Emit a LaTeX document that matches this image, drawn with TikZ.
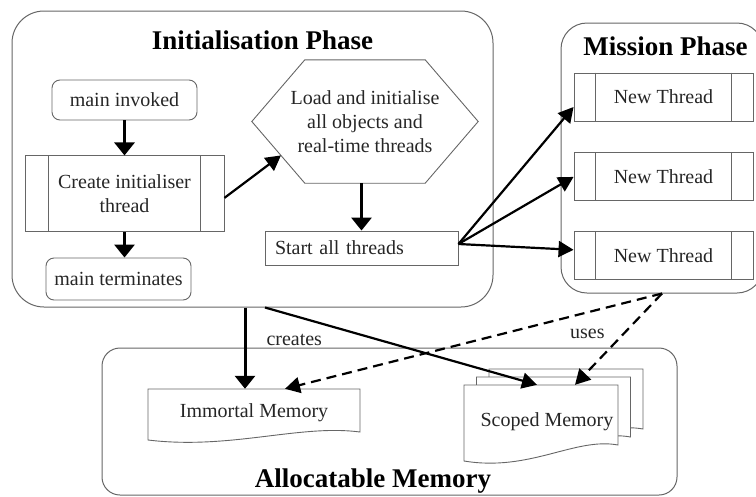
\documentclass[tikz,border=0pt]{standalone}
\usepackage{fontspec}
\setmainfont{Liberation Serif}
\usepackage{tikz}
\usetikzlibrary{arrows.meta,positioning,calc}

\begin{document}
\begin{tikzpicture}[x=1pt, y=-1pt,
  phase/.style={draw=black!60, line width=1pt},
  phasetitle/.style={font=\fontsize{27}{32}\selectfont\bfseries, anchor=base},
  txt/.style={font=\fontsize{20}{24}\selectfont, text=black!85, align=center,
    inner sep=2pt},
  outline/.style={draw=black!60, line width=0.9pt},
  stepbox/.style={txt, outline, rounded corners=8pt, minimum width=145pt},
  threadbox/.style={txt, outline},
  newthread/.style={threadbox, minimum width=179pt, minimum height=48pt},
  docshape/.style={outline, fill=white},
  flow/.style={-{Triangle[length=13pt,width=20pt]}, line width=3pt},
  spawn/.style={-{Triangle[length=15pt,width=16pt]}, line width=2.2pt},
  usearrow/.style={spawn, dash pattern=on 10pt off 6pt}]
\useasboundingbox (0,0) rectangle (756,496);

% initialisation phase
\node (init) [phase, rounded corners=32pt, minimum width=481pt,
  minimum height=296pt] at (252.5,159) {};
\node (inittitle) [phasetitle] at (262.5,49) {Initialisation Phase};
\node (mi) [stepbox, minimum height=40pt] at (124.5,100) {main invoked};
\node (ci) [threadbox, minimum width=199pt, minimum height=76pt,
  below=35pt of mi] {Create initialiser\\thread};
\node (mt) [stepbox, minimum height=42pt] at (118.5,279) {main terminates};
\node (load) [txt, minimum width=226pt, minimum height=123pt] at (365,121.5)
  {Load and initialise\\all objects and\\real-time threads};
\draw[outline] (load.west) -- ([xshift=53pt]load.north west)
  -- ([xshift=-53pt]load.north east) -- (load.east)
  -- ([xshift=-53pt]load.south east) -- ([xshift=53pt]load.south west) -- cycle;
\coordinate (hexedge) at ($(load.west)!0.55!([xshift=53pt]load.south west)$);
\node (start) [threadbox, minimum height=34pt, text width=173pt,
  inner xsep=10pt, align=left] at (361.5,248) {Start all threads};

% mission phase
\node (mission) [phase, rounded corners=26pt, minimum width=202pt,
  minimum height=270pt] at (662,158) {};
\node (missiontitle) [phasetitle] at (665.5,55) {Mission Phase};
\node (t1) [newthread] at (663.5,97) {New Thread};
\node (t2) [newthread, below=31pt of t1] {New Thread};
\node (t3) [newthread, below=30pt of t2] {New Thread};
\foreach \n/\d in {ci/24pt, t1/22pt, t2/22pt, t3/22pt} {
  \draw[outline] ([xshift=\d]\n.north west) -- ([xshift=\d]\n.south west);
  \draw[outline] ([xshift=-\d]\n.north east) -- ([xshift=-\d]\n.south east);
}

% allocatable memory
\node (alloc) [phase, rounded corners=18pt, minimum width=575pt,
  minimum height=147pt] at (389.5,421.5) {};
\node (alloctitle) [phasetitle] at (373,487) {Allocatable Memory};
\draw[docshape] (148,389) -- (360,389) -- (360,432)
  .. controls (300,424) and (230,450) .. (148,440) -- cycle;
\node (imm) [txt, minimum height=48pt] at (254,413) {Immortal Memory};
\foreach \dx/\dy in {25/-16, 12.5/-8, 0/0}
  \draw[docshape, shift={(\dx,\dy)}] (464,385) -- (618,385) -- (618,445)
    .. controls (575,437) and (530,472) .. (464,461) -- cycle;
\node (scoped) [txt, minimum height=74pt] at (547,422) {Scoped Memory};

% connectors
\draw[flow] (mi) -- (ci);
\draw[flow] (ci.south) -- (ci.south |- mt.north);
\draw[spawn] ([yshift=-4pt]ci.east) -- (hexedge);
\draw[flow] (start.north |- load.south) -- (start.north);
\draw[spawn] ([yshift=4pt]start.east) -- ([yshift=-10pt]t1.west);
\draw[spawn] ([yshift=4pt]start.east) -- (t2.west);
\draw[spawn] ([yshift=4pt]start.east) -- ([yshift=6pt]t3.west);
\draw[flow] ([xshift=-9pt]imm.north |- init.south)
  -- node[txt, pos=0.4, anchor=west, xshift=18pt] {creates}
  ([xshift=-9pt]imm.north);
\draw[spawn] ([xshift=11pt]imm.north |- init.south)
  -- ([xshift=-10pt]scoped.north);
\draw[usearrow] (mission.south) -- ([xshift=31pt]imm.north);
\draw[usearrow] (mission.south)
  -- node[txt, pos=0.44, anchor=east, xshift=-16pt] {uses}
  ([xshift=28pt]scoped.north);
\end{tikzpicture}
\end{document}
